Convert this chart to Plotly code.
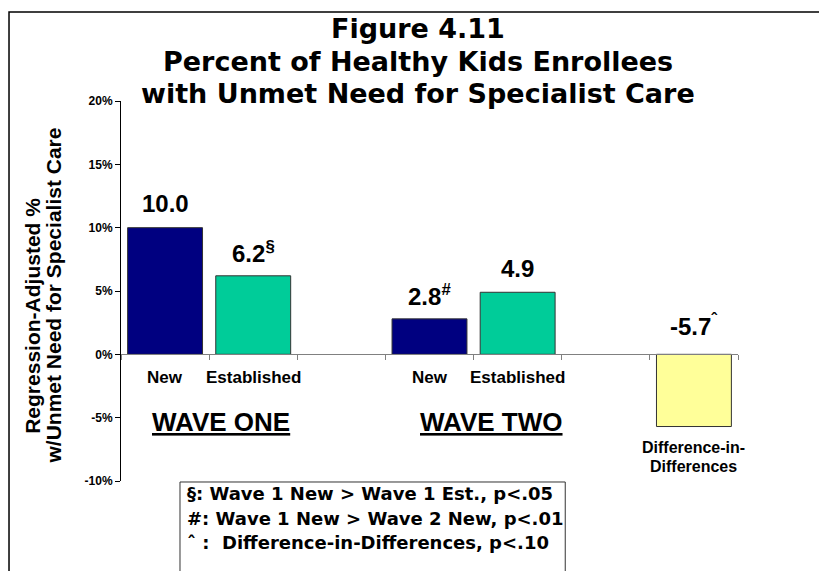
import plotly.graph_objects as go

# Données du graphique
categories = ["New", "Established", "New", "Established"]
x_pos = [0, 1, 3, 4, 6]
values = [10.0, 6.2, 2.8, 4.9, -5.7]
value_labels = ["10.0", "6.2<sup>§</sup>", "2.8<sup>#</sup>", "4.9", "-5.7<sup>ˆ</sup>"]
bar_colors = ["#000080", "#00CC99", "#000080", "#00CC99", "#FFFF99"]
did_lines = ["Difference-in-", "Differences"]
y_ticks = [-10, -5, 0, 5, 10, 15, 20]
y_ticktext = ["-10%", "-5%", "0%", "5%", "10%", "15%", "20%"]
wave_labels = ["WAVE ONE", "WAVE TWO"]
wave_x = [0.635, 3.70]
title_lines = ["Figure 4.11", "Percent of Healthy Kids Enrollees", "with Unmet Need for Specialist Care"]
ytitle_lines = ["Regression-Adjusted %", "w/Unmet Need for Specialist Care"]
notes = ["§: Wave 1 New &gt; Wave 1 Est., p&lt;.05",
         "#: Wave 1 New &gt; Wave 2 New, p&lt;.01",
         "ˆ :  Difference-in-Differences, p&lt;.10"]

FONT = "Liberation Sans, Arial, sans-serif"
WIDE = "DejaVu Sans, Liberation Sans, sans-serif"

fig = go.Figure(go.Bar(
    x=x_pos, y=values, width=0.85,
    marker=dict(color=bar_colors, line=dict(color="#333333", width=1)),
    hoverinfo="skip",
))

ann = []
# étiquettes de valeur au-dessus des barres
for x, v, lab in zip(x_pos, values, value_labels):
    ann.append(dict(x=x, y=max(v, 0), xref="x", yref="y", text="<b>" + lab + "</b>",
                    showarrow=False, yanchor="middle", yshift=24 if v > 0 else 29,
                    font=dict(size=24, color="black", family=FONT)))
# étiquettes New / Established
for x, c in zip(x_pos[:4], categories):
    ann.append(dict(x=x, y=-1.82, xref="x", yref="y", text="<b>" + c + "</b>",
                    showarrow=False, yanchor="middle",
                    font=dict(size=17, color="black", family=FONT)))
for y, t in zip([-7.39, -8.85], did_lines):
    ann.append(dict(x=x_pos[4], y=y, xref="x", yref="y", text="<b>" + t + "</b>",
                    showarrow=False, yanchor="middle",
                    font=dict(size=16, color="black", family=FONT)))
for x, w in zip(wave_x, wave_labels):
    ann.append(dict(x=x, y=-5.34, xref="x", yref="y", text="<b><u>" + w + "</u></b>",
                    showarrow=False, yanchor="middle",
                    font=dict(size=26, color="black", family=FONT)))
# titre
for y, t in zip([1.1895, 1.105, 1.021], title_lines):
    ann.append(dict(x=0.481, y=y, xref="paper", yref="paper", text="<b>" + t + "</b>",
                    showarrow=False, xanchor="center", yanchor="middle",
                    font=dict(size=27, color="black", family=WIDE)))
# titre de l'axe Y (deux lignes)
for x, y, t in zip([-0.1447, -0.1097], [0.434, 0.489], ytitle_lines):
    ann.append(dict(x=x, y=y, xref="paper", yref="paper", textangle=-90,
                    text="<b>" + t + "</b>", showarrow=False,
                    xanchor="center", yanchor="middle",
                    font=dict(size=21, color="black", family=FONT)))
# notes de significativité
for y, n in zip([-0.034, -0.098, -0.162], notes):
    ann.append(dict(x=0.1037, y=y, xref="paper", yref="paper", text="<b>" + n + "</b>",
                    showarrow=False, xanchor="left", yanchor="middle",
                    font=dict(size=18, color="black", family=WIDE)))

shapes = [
    dict(type="rect", xref="paper", yref="paper", x0=-0.1815, x1=1.4, y0=-0.5, y1=1.234,
         line=dict(color="black", width=1.5)),
    dict(type="rect", xref="paper", yref="paper", x0=0.0956, x1=0.72, y0=-0.5, y1=-0.0026,
         line=dict(color="#333333", width=1)),
]

fig.update_layout(
    width=827, height=571,
    margin=dict(l=113, r=97, t=93, b=98),
    paper_bgcolor="white", plot_bgcolor="white",
    showlegend=False,
    annotations=ann, shapes=shapes,
    xaxis=dict(range=[-0.5, 6.5], anchor="free", position=1/3,
               showline=True, linecolor="#808080", linewidth=1,
               ticks="outside", ticklen=5, tickcolor="#808080",
               tickvals=[-0.5, 0.5, 1.5, 2.5, 3.5, 4.5, 5.5, 6.5],
               showticklabels=False, showgrid=False, zeroline=False),
    yaxis=dict(range=[-10, 20], showline=True, linecolor="black", linewidth=1,
               ticks="outside", ticklen=5, tickcolor="black",
               tickvals=y_ticks, ticktext=["<b>" + t + "</b>" for t in y_ticktext],
               tickfont=dict(size=12, color="black", family=FONT),
               showgrid=False, zeroline=False),
)

fig.write_html("out.html")
